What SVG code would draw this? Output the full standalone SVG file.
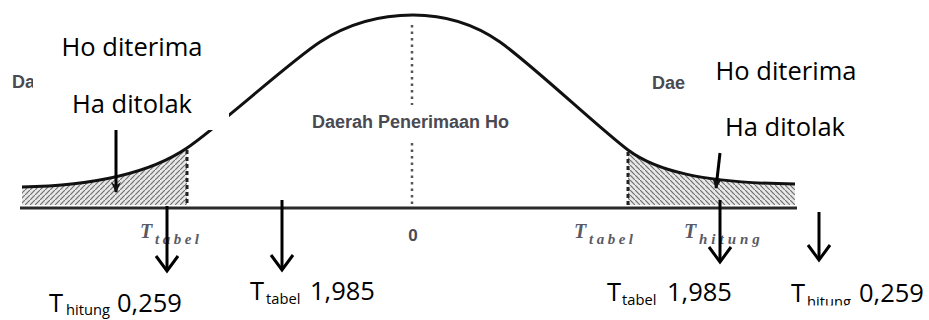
<svg xmlns="http://www.w3.org/2000/svg" width="929" height="320" viewBox="0 0 929 320">
  <style>
    .lbl { font-family: "Open Sans", "Liberation Sans", sans-serif; font-size: 25.5px; fill: #000; }
    .sub { font-family: "Open Sans", "Liberation Sans", sans-serif; font-size: 14.7px; fill: #000; }
    .fig { font-family: "Liberation Sans", Arial, sans-serif; font-weight: bold; fill: #4a4a52; }
    .ital { font-family: "Liberation Serif", "Times New Roman", serif; font-weight: bold; font-style: italic; fill: #5a5a64; }
    .conn { stroke: #000; stroke-width: 3; fill: none; }
  </style>
  <defs>
    <marker id="headFill" viewBox="0 0 10 10" refX="9" refY="5" markerWidth="11" markerHeight="11" markerUnits="userSpaceOnUse" orient="auto">
      <path d="M0,0.5 L10,5 L0,9.5 L3,5 z" fill="#111"/>
    </marker>
    <marker id="headOpen" viewBox="0 0 30 30" refX="27" refY="15" markerWidth="30" markerHeight="30" markerUnits="userSpaceOnUse" orient="auto">
      <path d="M12,4 L27,15 L12,26" fill="none" stroke="#000" stroke-width="3"/>
    </marker>
    <pattern id="hatchL" patternUnits="userSpaceOnUse" width="5" height="5">
      <rect width="5" height="5" fill="#e8e8e8"/>
      <path d="M-1,6 L6,-1" stroke="#707070" stroke-width="1.2"/>
    </pattern>
    <pattern id="hatchR" patternUnits="userSpaceOnUse" width="5" height="5">
      <rect width="5" height="5" fill="#e8e8e8"/>
      <path d="M-1,-1 L6,6" stroke="#707070" stroke-width="1.2"/>
    </pattern>
    <clipPath id="clipBottom">
      <rect x="0" y="0" width="929" height="305.5"/>
    </clipPath>
  </defs>

  <rect width="929" height="320" fill="#fff"/>

  <!-- shaded rejection regions -->
  <g id="shading">
    <path d="M22,187 C70,186 140,180 187,148 L187,205 L22,205 Z" fill="url(#hatchL)"/>
    <path d="M628,150 C655,170 700,183 795,184 L795,205 L628,205 Z" fill="url(#hatchR)"/>
  </g>

  <!-- curve, axis and guides -->
  <g id="curve">
    <path d="M22,187 C70,186 140,180 187,148 C220,125.5 290,61.5 320,42 C350,22.5 380,15 413,15 C445,15 475,24.5 500,42 C530,63 600,129 628,150 C655,170 700,183 795,184" fill="none" stroke="#111" stroke-width="3"/>
  </g>
  <g id="axis">
    <line x1="20" y1="208" x2="797" y2="208" stroke="#2a2a2a" stroke-width="3"/>
  </g>
  <g id="guides">
    <line x1="187" y1="150" x2="187" y2="206" stroke="#222" stroke-width="3" stroke-dasharray="4,3"/>
    <line x1="628" y1="152" x2="628" y2="206" stroke="#222" stroke-width="3" stroke-dasharray="4,3"/>
    <line x1="412" y1="25" x2="412" y2="105" stroke="#555" stroke-width="2.5" stroke-dasharray="2.5,4"/>
    <line x1="412" y1="143" x2="412" y2="206" stroke="#555" stroke-width="2.5" stroke-dasharray="2.5,4"/>
  </g>

  <!-- figure texts -->
  <g id="fig-left-partial"><text class="fig" x="12" y="88" font-size="18">Da</text></g>
  <g id="fig-right-partial"><text class="fig" x="652" y="89" font-size="18">Daer</text></g>
  <g id="fig-center"><text class="fig" x="312" y="128" font-size="18">Daerah Penerimaan Ho</text></g>
  <g id="fig-zero"><text class="fig" x="413" y="241" font-size="17" text-anchor="middle">0</text></g>
  <g id="fig-ttabel-left">
    <text class="ital" x="140" y="238" font-size="20">T</text>
    <text class="ital" x="155" y="244" font-size="15" letter-spacing="3.5">tabel</text>
  </g>
  <g id="fig-ttabel-right">
    <text class="ital" x="574" y="238" font-size="20">T</text>
    <text class="ital" x="589" y="244" font-size="15" letter-spacing="3.5">tabel</text>
  </g>
  <g id="fig-thitung-right">
    <text class="ital" x="684" y="238" font-size="20">T</text>
    <text class="ital" x="699" y="244" font-size="15" letter-spacing="4">hitung</text>
  </g>

  <!-- white label boxes -->
  <rect x="33" y="20" width="196" height="110" fill="#fff"/>
  <rect x="686" y="50" width="200" height="100" fill="#fff"/>

  <g id="label-left">
    <text class="lbl" x="132" y="56" text-anchor="middle">Ho diterima</text>
    <text class="lbl" x="132" y="113" text-anchor="middle">Ha ditolak</text>
  </g>
  <g id="label-right">
    <text class="lbl" x="786" y="80" text-anchor="middle">Ho diterima</text>
    <text class="lbl" x="785" y="136" text-anchor="middle">Ha ditolak</text>
  </g>

  <g id="value-thitung-left">
    <text class="lbl" x="49" y="312">T</text>
    <text class="sub" x="66" y="315">hitung</text>
    <text class="lbl" x="117" y="312">0,259</text>
  </g>
  <g id="value-ttabel-left">
    <text class="lbl" x="250" y="300">T</text>
    <text class="sub" x="266" y="304">tabel</text>
    <text class="lbl" x="310" y="300">1,985</text>
  </g>
  <g id="value-ttabel-right">
    <text class="lbl" x="607" y="301">T</text>
    <text class="sub" x="622" y="305">tabel</text>
    <text class="lbl" x="667" y="301">1,985</text>
  </g>
  <g id="value-thitung-right">
    <text class="lbl" x="791" y="302">T</text>
    <text class="sub" x="807" y="307" clip-path="url(#clipBottom)">hitung</text>
    <text class="lbl" x="859" y="302">0,259</text>
  </g>

  <!-- connectors -->
  <g id="connectors">
    <line class="conn" x1="116" y1="130" x2="116" y2="192" marker-end="url(#headFill)"/>
    <line class="conn" x1="720" y1="153" x2="716" y2="188" marker-end="url(#headFill)"/>
    <line class="conn" x1="167" y1="206" x2="167" y2="271" marker-end="url(#headOpen)"/>
    <line class="conn" x1="282" y1="200" x2="282" y2="270" marker-end="url(#headOpen)"/>
    <line class="conn" x1="720" y1="200" x2="720" y2="262" marker-end="url(#headOpen)"/>
    <line class="conn" x1="819" y1="212" x2="819" y2="260" marker-end="url(#headOpen)"/>
  </g>
</svg>
